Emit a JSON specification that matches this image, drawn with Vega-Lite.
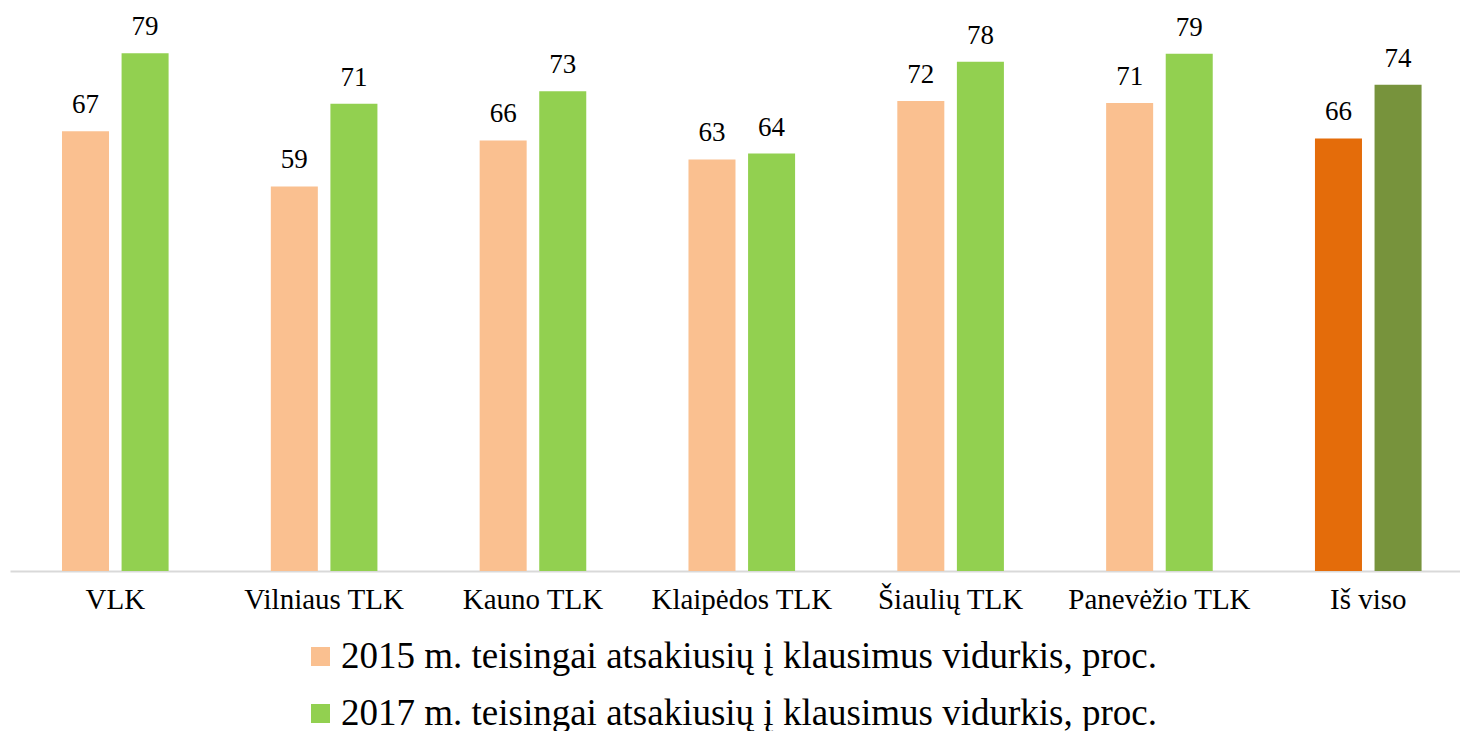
{
  "$schema": "https://vega.github.io/schema/vega-lite/v6.json",
  "autosize": "none",
  "width": 1450,
  "height": 571,
  "padding": {"left": 10, "top": 0, "right": 0, "bottom": 160},
  "background": "white",
  "config": {
    "view": {"stroke": null},
    "font": "'Liberation Serif', 'Times New Roman', serif"
  },
  "data": {
    "values": [
      {"category": "VLK", "series": "2015 m. teisingai atsakiusių į klausimus vidurkis, proc.", "value": 67.0, "colorKey": "2015 m. teisingai atsakiusių į klausimus vidurkis, proc."},
      {"category": "VLK", "series": "2017 m. teisingai atsakiusių į klausimus vidurkis, proc.", "value": 78.9, "colorKey": "2017 m. teisingai atsakiusių į klausimus vidurkis, proc."},
      {"category": "Vilniaus TLK", "series": "2015 m. teisingai atsakiusių į klausimus vidurkis, proc.", "value": 58.6, "colorKey": "2015 m. teisingai atsakiusių į klausimus vidurkis, proc."},
      {"category": "Vilniaus TLK", "series": "2017 m. teisingai atsakiusių į klausimus vidurkis, proc.", "value": 71.2, "colorKey": "2017 m. teisingai atsakiusių į klausimus vidurkis, proc."},
      {"category": "Kauno TLK", "series": "2015 m. teisingai atsakiusių į klausimus vidurkis, proc.", "value": 65.6, "colorKey": "2015 m. teisingai atsakiusių į klausimus vidurkis, proc."},
      {"category": "Kauno TLK", "series": "2017 m. teisingai atsakiusių į klausimus vidurkis, proc.", "value": 73.1, "colorKey": "2017 m. teisingai atsakiusių į klausimus vidurkis, proc."},
      {"category": "Klaipėdos TLK", "series": "2015 m. teisingai atsakiusių į klausimus vidurkis, proc.", "value": 62.7, "colorKey": "2015 m. teisingai atsakiusių į klausimus vidurkis, proc."},
      {"category": "Klaipėdos TLK", "series": "2017 m. teisingai atsakiusių į klausimus vidurkis, proc.", "value": 63.6, "colorKey": "2017 m. teisingai atsakiusių į klausimus vidurkis, proc."},
      {"category": "Šiaulių TLK", "series": "2015 m. teisingai atsakiusių į klausimus vidurkis, proc.", "value": 71.6, "colorKey": "2015 m. teisingai atsakiusių į klausimus vidurkis, proc."},
      {"category": "Šiaulių TLK", "series": "2017 m. teisingai atsakiusių į klausimus vidurkis, proc.", "value": 77.6, "colorKey": "2017 m. teisingai atsakiusių į klausimus vidurkis, proc."},
      {"category": "Panevėžio TLK", "series": "2015 m. teisingai atsakiusių į klausimus vidurkis, proc.", "value": 71.3, "colorKey": "2015 m. teisingai atsakiusių į klausimus vidurkis, proc."},
      {"category": "Panevėžio TLK", "series": "2017 m. teisingai atsakiusių į klausimus vidurkis, proc.", "value": 78.8, "colorKey": "2017 m. teisingai atsakiusių į klausimus vidurkis, proc."},
      {"category": "Iš viso", "series": "2015 m. teisingai atsakiusių į klausimus vidurkis, proc.", "value": 65.9, "colorKey": "Iš viso 2015"},
      {"category": "Iš viso", "series": "2017 m. teisingai atsakiusių į klausimus vidurkis, proc.", "value": 74.1, "colorKey": "Iš viso 2017"}
    ]
  },
  "encoding": {
    "x": {
      "field": "category",
      "type": "nominal",
      "sort": null,
      "scale": {"paddingInner": 0.4895, "paddingOuter": 0.2165, "align": 0.575},
      "axis": {
        "title": null,
        "labelAngle": 0,
        "ticks": false,
        "domainColor": "#D9D9D9",
        "domainWidth": 2,
        "labelFont": "'Liberation Serif', 'Times New Roman', serif",
        "labelFontSize": 29,
        "labelColor": "#000000",
        "labelPadding": 14,
        "labelLimit": 400
      }
    },
    "xOffset": {
      "field": "series",
      "type": "nominal",
      "sort": null,
      "scale": {"paddingInner": 0.211, "paddingOuter": 0}
    },
    "y": {
      "field": "value",
      "type": "quantitative",
      "scale": {"domain": [0, 87], "nice": false, "zero": true},
      "axis": null
    }
  },
  "layer": [
    {
      "mark": {"type": "bar"},
      "encoding": {
        "color": {
          "field": "colorKey",
          "type": "nominal",
          "scale": {
            "domain": [
              "2015 m. teisingai atsakiusių į klausimus vidurkis, proc.",
              "2017 m. teisingai atsakiusių į klausimus vidurkis, proc.",
              "Iš viso 2015",
              "Iš viso 2017"
            ],
            "range": ["#FAC090", "#92D050", "#E46C0A", "#77933C"]
          },
          "legend": {
            "values": [
              "2015 m. teisingai atsakiusių į klausimus vidurkis, proc.",
              "2017 m. teisingai atsakiusių į klausimus vidurkis, proc."
            ],
            "title": null,
            "orient": "none",
            "legendX": 292,
            "legendY": 638,
            "direction": "vertical",
            "padding": 0,
            "symbolType": "square",
            "symbolSize": 361,
            "symbolStrokeWidth": 0,
            "labelFont": "'Liberation Serif', 'Times New Roman', serif",
            "labelFontSize": 37,
            "labelColor": "#000000",
            "labelOffset": 2,
            "labelLimit": 1200,
            "rowPadding": 19
          }
        }
      }
    },
    {
      "mark": {
        "type": "text",
        "baseline": "alphabetic",
        "dy": -18,
        "font": "'Liberation Serif', 'Times New Roman', serif",
        "fontSize": 27,
        "color": "#000000"
      },
      "encoding": {
        "text": {"field": "value", "type": "quantitative", "format": ".0f"}
      }
    }
  ]
}
